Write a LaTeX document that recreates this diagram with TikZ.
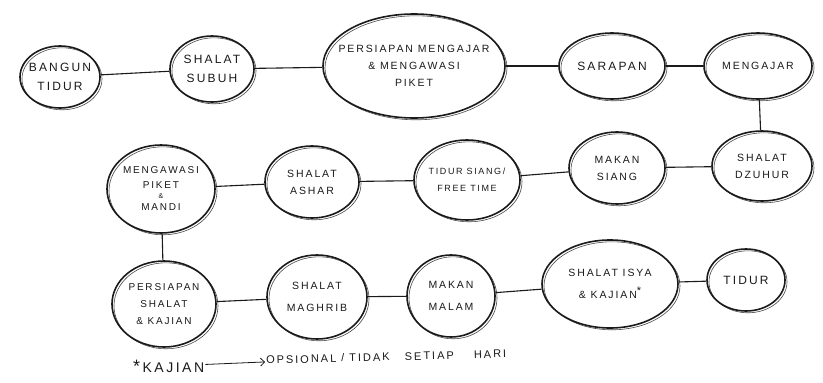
\documentclass[tikz,border=0pt]{standalone}
\usepackage{fontspec}
\setmainfont{Liberation Sans}
\newfontfamily\hand[LetterSpace=18]{Liberation Sans}
\usetikzlibrary{shapes.geometric,arrows.meta}
\definecolor{ink}{HTML}{1A1A1A}
\begin{document}
\begin{tikzpicture}[x=1pt,y=-1pt]
\useasboundingbox[fill=white] (0,0) rectangle (823,383);
\tikzset{
  bub/.style 2 args={ellipse, draw=ink, line width=1.6pt, inner sep=0pt,
    minimum width=#1, minimum height=#2,
    preaction={draw=ink!80, line width=0.6pt,
      transform canvas={xshift=2pt,yshift=-1.8pt}}},
  txt/.style={font=\hand\fontsize{12}{19}\selectfont, align=center, text=ink},
  txts/.style={font=\hand\fontsize{10.5}{17}\selectfont, align=center, text=ink},
  link/.style={draw=ink, line width=1.1pt},
}
% first row
\node[bub={80}{62},  label={[txt]center:BANGUN\\TIDUR}] (bangun) at (60,77) {};
\node[bub={84}{66},  label={[txt]center:SHALAT\\SUBUH}] (subuh) at (212,69) {};
\node[bub={182}{104},label={[txts]center:PERSIAPAN MENGAJAR\\\& MENGAWASI\\PIKET}] (persiapan) at (414,66) {};
\node[bub={106}{66}, label={[txt]center:SARAPAN}] (sarapan) at (612,66) {};
\node[bub={108}{66}, label={[txts]center:MENGAJAR}] (mengajar) at (758,66) {};
% second row
\node[bub={100}{70}, label={[txts]center:SHALAT\\DZUHUR}] (dzuhur) at (762,166) {};
\node[bub={96}{72},  label={[txts]center:MAKAN\\SIANG}] (makansiang) at (617,168) {};
\node[bub={106}{80}, label={[txts,font=\hand\fontsize{9}{17}\selectfont]center:TIDUR SIANG/\\FREE TIME}] (tidursiang) at (467,180) {};
\node[bub={94}{72},  label={[txts]center:SHALAT\\ASHAR}] (ashar) at (312,182) {};
\node[bub={108}{88}, label={[txts,font=\hand\fontsize{10}{15}\selectfont]center:MENGAWASI\\PIKET\\[-5pt]{\fontsize{7}{7}\selectfont\&}\\[-3pt]MANDI}] (mengawasi) at (161,189) {};
% third row
\node[bub={104}{86}, label={[txts,font=\hand\fontsize{10}{17}\selectfont]center:PERSIAPAN\\SHALAT\\\& KAJIAN}] (pshalat) at (164,304) {};
\node[bub={100}{84}, label={[txts,font=\hand\fontsize{10.5}{22}\selectfont]center:SHALAT\\MAGHRIB}] (maghrib) at (317,297) {};
\node[bub={88}{82},  label={[txts,font=\hand\fontsize{10.5}{22}\selectfont]center:MAKAN\\MALAM}] (makanmalam) at (451,296) {};
\node[bub={136}{88}, label={[txts,font=\hand\fontsize{10.5}{22}\selectfont]center:SHALAT ISYA\\\& KAJIAN\raisebox{4pt}{\fontsize{11}{11}\selectfont *}}] (isya) at (610,284) {};
\node[bub={78}{62},  label={[txt]center:TIDUR}] (tidur) at (746,280) {};
% connectors
\draw[link] (bangun) -- (subuh);
\draw[link] (subuh) -- (persiapan);
\draw[link] (persiapan) -- (sarapan);
\draw[link] (sarapan) -- (mengajar);
\draw[link] (mengajar) -- (dzuhur);
\draw[link] (dzuhur) -- (makansiang);
\draw[link] (makansiang) -- (tidursiang);
\draw[link] (tidursiang) -- (ashar);
\draw[link] (ashar) -- (mengawasi);
\draw[link] (mengawasi) -- (pshalat);
\draw[link] (pshalat) -- (maghrib);
\draw[link] (maghrib) -- (makanmalam);
\draw[link] (makanmalam) -- (isya);
\draw[link] (isya) -- (tidur);
% footnote
\node[txt, anchor=west, inner sep=1pt, font=\hand\fontsize{14}{16}\selectfont] (kaj) at (132,366) {{\fontsize{18}{18}\selectfont*}\,KAJIAN};
\node[txts, anchor=west, inner sep=1pt, rotate=1.5, font=\hand\fontsize{11}{14}\selectfont] (opsi) at (265,360) {OPSIONAL / TIDAK \ \ SETIAP \ \ \ HARI};
\draw[ink, line width=0.8pt, -{Straight Barb[length=4pt,width=8pt]}] (kaj) -- (opsi);
\end{tikzpicture}
\end{document}
